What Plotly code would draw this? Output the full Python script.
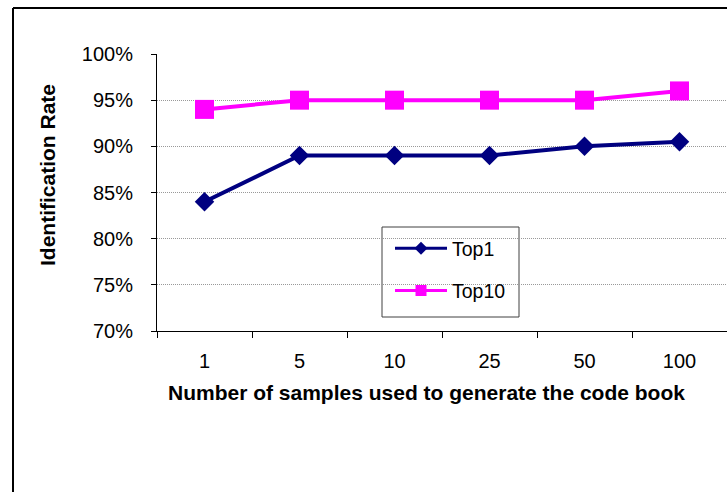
import plotly.graph_objects as go

# Identification rate vs. code book sample count
samples = ["1", "5", "10", "25", "50", "100"]
top1 = [0.84, 0.89, 0.89, 0.89, 0.90, 0.905]
top10 = [0.94, 0.95, 0.95, 0.95, 0.95, 0.96]
y_ticks = [0.70, 0.75, 0.80, 0.85, 0.90, 0.95, 1.00]

W, H = 727, 492
L, R, T, B = 157, 0, 54, 161

FONT = "Liberation Sans, Arial, sans-serif"
NAVY = "#000080"
MAGENTA = "#FF00FF"

pw = W - L - R
ph = H - T - B


def px(x):
    return (x - L) / pw


def py(y):
    return (H - B - y) / ph


fig = go.Figure()

fig.add_trace(go.Scatter(
    x=samples, y=top1, mode="lines+markers", showlegend=False,
    line=dict(color=NAVY, width=4),
    marker=dict(symbol="diamond", size=15, color=NAVY),
))
fig.add_trace(go.Scatter(
    x=samples, y=top10, mode="lines+markers", showlegend=False,
    line=dict(color=MAGENTA, width=4),
    marker=dict(symbol="square", size=19, color=MAGENTA),
))

# legend entries with smaller symbols
fig.add_trace(go.Scatter(
    x=[None], y=[None], mode="lines+markers", name="Top1", legendgroup="a",
    line=dict(color=NAVY, width=3),
    marker=dict(symbol="diamond", size=10, color=NAVY),
))
fig.add_trace(go.Scatter(
    x=[None], y=[None], mode="lines+markers", name="Top10", legendgroup="b",
    line=dict(color=MAGENTA, width=3),
    marker=dict(symbol="square", size=11, color=MAGENTA),
))

shapes = [
    # outer frame (left and top edges)
    dict(type="line", xref="paper", yref="paper",
         x0=px(13), x1=px(13), y0=py(8), y1=py(H + 5),
         line=dict(color="black", width=2)),
    dict(type="line", xref="paper", yref="paper",
         x0=px(13), x1=px(W + 5), y0=py(8), y1=py(8),
         line=dict(color="black", width=2)),
    # legend box
    dict(type="rect", xref="paper", yref="paper",
         x0=px(382), x1=px(519), y0=py(227), y1=py(317),
         line=dict(color="#404040", width=1), fillcolor="white", layer="below"),
]

annotations = [
    dict(text="<b>Number of samples used to generate the code book</b>",
         xref="paper", yref="paper", x=px(426), y=py(392),
         xanchor="center", yanchor="middle", showarrow=False,
         font=dict(family=FONT, size=21, color="black")),
    dict(text="<b>Identification Rate</b>",
         xref="paper", yref="paper", x=px(47), y=py(175),
         xanchor="center", yanchor="middle", showarrow=False, textangle=-90,
         font=dict(family=FONT, size=21, color="black")),
]

fig.update_layout(
    width=W, height=H,
    margin=dict(l=L, r=R, t=T, b=B, pad=0),
    paper_bgcolor="white", plot_bgcolor="white",
    font=dict(family=FONT, size=20, color="black"),
    shapes=shapes,
    annotations=annotations,
    legend=dict(
        x=px(390), y=py(229), xanchor="left", yanchor="top",
        bgcolor="rgba(0,0,0,0)", borderwidth=0,
        font=dict(family=FONT, size=19.5, color="black"),
        tracegroupgap=14, traceorder="grouped", itemwidth=52,
    ),
    xaxis=dict(
        type="category", range=[-0.5, 5.5],
        showline=True, linecolor="black", linewidth=1,
        ticks="outside", ticklen=6, tickcolor="black", tickson="boundaries",
        showgrid=False, zeroline=False, ticklabelstandoff=12,
        tickfont=dict(family=FONT, size=20),
    ),
    yaxis=dict(
        range=[0.70, 1.00], tickvals=y_ticks, tickformat=".0%",
        showline=True, linecolor="black", linewidth=1,
        ticks="outside", ticklen=5, tickcolor="black",
        showgrid=True, gridcolor="#999999", gridwidth=1, griddash="1px,1px",
        zeroline=False, ticklabelstandoff=14,
        tickfont=dict(family=FONT, size=20),
    ),
)

fig.write_html("out.html")
